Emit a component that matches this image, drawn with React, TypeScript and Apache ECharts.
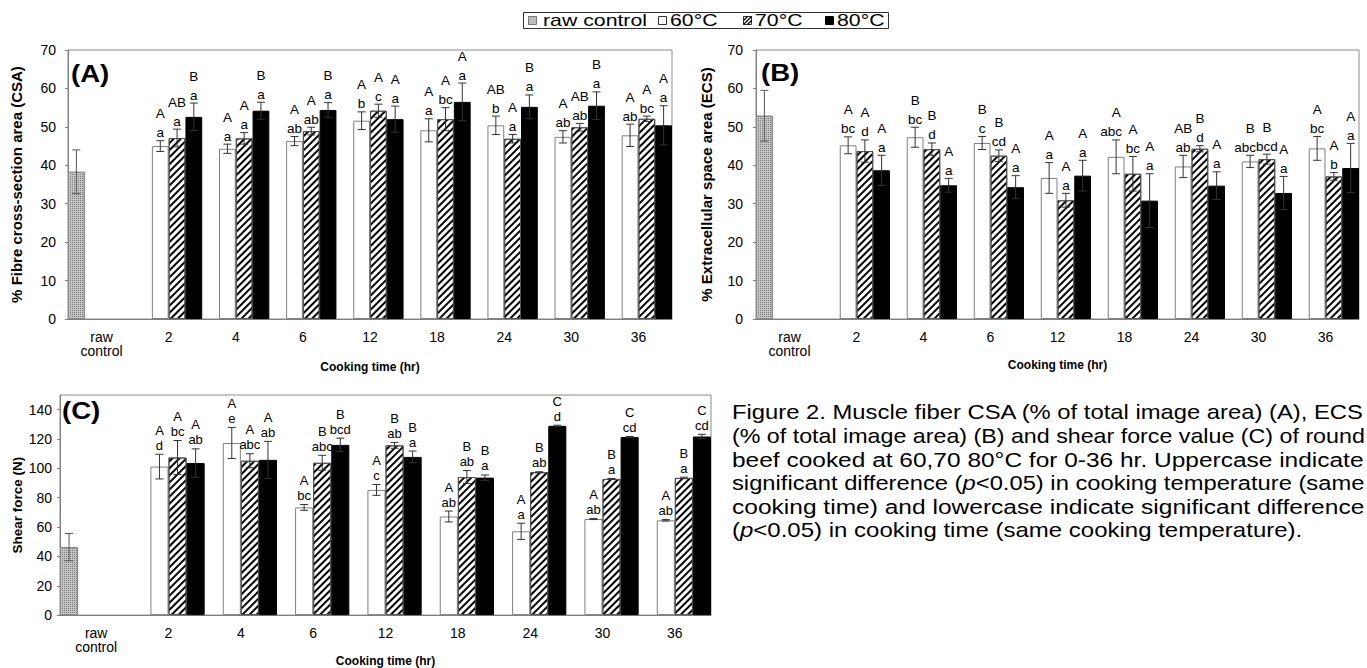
import React, { useEffect, useRef } from 'react';
import * as echarts from 'echarts';

const FONT = "'Liberation Sans', Arial, Helvetica, sans-serif";

// categories (cooking time)
const categories = ['raw\ncontrol', '2', '4', '6', '12', '18', '24', '30', '36'];

// (A) fibre cross-section area (%)
const csaRaw = 38.3;
const csaRawErr = 5.7;
const csa60 = [45.0, 44.3, 46.3, 51.6, 49.1, 50.4, 47.4, 47.8];
const csa60Err = [1.4, 1.2, 1.2, 2.3, 3.0, 2.4, 1.6, 2.9];
const csa70 = [47.1, 47.0, 48.9, 54.2, 52.0, 46.9, 49.9, 52.1];
const csa70Err = [2.3, 1.5, 1.0, 1.7, 3.0, 1.1, 1.0, 0.7];
const csa80 = [52.6, 54.2, 54.4, 52.0, 56.5, 55.2, 55.5, 50.4];
const csa80Err = [3.6, 2.2, 1.9, 3.4, 4.9, 3.1, 3.6, 5.1];
const csa60Sig = ['A a', 'A a', 'A ab', 'A b', 'A a', 'AB b', 'A ab', 'A ab'];
const csa70Sig = ['AB a', 'A a', 'A ab', 'A c', 'A bc', 'A a', 'AB ab', 'A bc'];
const csa80Sig = ['B a', 'B a', 'B a', 'A a', 'A a', 'B a', 'B a', 'A a'];

// (B) extracellular space area (%)
const ecsRaw = 52.9;
const ecsRawErr = 6.6;
const ecs60 = [45.2, 47.3, 45.8, 36.7, 42.2, 39.7, 41.0, 44.4];
const ecs60Err = [2.2, 2.6, 1.7, 4.0, 4.4, 2.9, 1.6, 3.1];
const ecs70 = [43.7, 44.2, 42.5, 30.9, 37.8, 44.3, 41.6, 37.1];
const ecs70Err = [2.9, 1.6, 1.5, 1.8, 4.5, 0.8, 1.3, 1.0];
const ecs80 = [38.7, 34.8, 34.3, 37.3, 30.8, 34.7, 32.8, 39.3];
const ecs80Err = [3.9, 1.8, 3.0, 4.0, 7.0, 3.6, 4.3, 6.4];
const ecs60Sig = ['A bc', 'B bc', 'B c', 'A a', 'A abc', 'AB ab', 'B abc', 'A bc'];
const ecs70Sig = ['A d', 'B d', 'B cd', 'A a', 'A bc', 'B d', 'B bcd', 'A b'];
const ecs80Sig = ['A a', 'A a', 'A a', 'A a', 'A a', 'A a', 'A a', 'A a'];

// (C) shear force (N)
const sfRaw = 46.3;
const sfRawErr = 9.3;
const sf60 = [101.2, 117.3, 73.4, 85.3, 67.2, 57.1, 65.5, 64.6];
const sf60Err = [8.4, 10.6, 2.0, 3.7, 3.7, 5.5, 0.4, 0.5];
const sf70 = [107.4, 105.2, 103.8, 115.7, 94.1, 97.4, 92.8, 93.5];
const sf70Err = [11.6, 4.8, 5.1, 2.0, 4.4, 0.3, 0.3, 0.5];
const sf80 = [103.6, 105.8, 116.0, 107.8, 93.7, 129.0, 121.3, 121.7];
const sf80Err = [9.7, 12.6, 4.6, 4.0, 1.8, 0.4, 0.4, 1.5];
const sf60Sig = ['A d', 'A e', 'A bc', 'A c', 'A ab', 'A a', 'A ab', 'A ab'];
const sf70Sig = ['A bc', 'A abc', 'B abc', 'B ab', 'B ab', 'B ab', 'B a', 'B a'];
const sf80Sig = ['A ab', 'A ab', 'B bcd', 'B a', 'B a', 'C d', 'C cd', 'C cd'];

const seriesNames = ['raw control', '60°C', '70°C', '80°C'];

const captionLines = [
  { text: 'Figure 2. Muscle fiber CSA (% of total image area) (A), ECS', sx: 1.134 },
  { text: '(% of total image area) (B) and shear force value (C) of round', sx: 1.107 },
  { text: 'beef cooked at 60,70 80°C for 0-36 hr. Uppercase indicate', sx: 1.166 },
  { text: 'significant difference ({i|p}<0.05) in cooking temperature (same', sx: 1.131 },
  { text: 'cooking time) and lowercase indicate significant difference', sx: 1.169 },
  { text: '({i|p}<0.05) in cooking time (same cooking temperature).', sx: 1.143 },
];

const hatchDecal = {
  symbol: 'rect',
  symbolSize: 1,
  color: '#000',
  backgroundColor: '#fff',
  dashArrayX: [1, 0],
  dashArrayY: [1.4, 2.6],
  rotation: -Math.PI / 4,
};
const stippleDecal = {
  symbol: 'rect',
  symbolSize: 1,
  color: '#7a7a7a',
  backgroundColor: '#dadada',
  dashArrayX: [1, 1],
  dashArrayY: [1, 1],
  rotation: 0,
};

type PanelCfg = {
  p: number;
  grid: { left: number; top: number; width: number; height: number };
  yMax: number;
  yInterval: number;
  hideMax: boolean;
  yName: string;
  yNameSize: number;
  yNameGap: number;
  yLabelMargin: number;
  xNameGap: number;
  raw: number;
  rawErr: number;
  v60: number[];
  e60: number[];
  v70: number[];
  e70: number[];
  v80: number[];
  e80: number[];
  s60: string[];
  s70: string[];
  s80: string[];
  lowOff: number;
  lineGap: number;
  sigSize: number;
};

function buildPanel(c: PanelCfg) {
  const p = c.p;
  const grid = {
    left: c.grid.left,
    top: c.grid.top,
    width: c.grid.width,
    height: c.grid.height,
    show: true,
    borderColor: '#8c8c8c',
    borderWidth: 1,
    backgroundColor: 'transparent',
  };
  const xAxis = {
    type: 'category',
    gridIndex: p,
    data: categories,
    axisLine: { lineStyle: { color: '#7f7f7f', width: 1 } },
    axisTick: { show: false },
    axisLabel: { color: '#000', fontSize: 14, fontFamily: FONT, margin: 11, lineHeight: 14, interval: 0 },
    name: 'Cooking time (hr)',
    nameLocation: 'middle',
    nameGap: c.xNameGap,
    nameTextStyle: { color: '#000', fontWeight: 'bold', fontSize: 12, fontFamily: FONT },
  };
  const yAxis = {
    type: 'value',
    gridIndex: p,
    min: 0,
    max: c.yMax,
    interval: c.yInterval,
    axisLine: { show: true, lineStyle: { color: '#7f7f7f', width: 1 } },
    axisTick: { show: true, length: 3, lineStyle: { color: '#7f7f7f' } },
    splitLine: { show: false },
    axisLabel: {
      color: '#000',
      fontSize: 14,
      fontFamily: FONT,
      margin: c.yLabelMargin,
      showMaxLabel: !c.hideMax,
    },
    name: c.yName,
    nameLocation: 'middle',
    nameGap: c.yNameGap,
    nameTextStyle: { color: '#000', fontWeight: 'bold', fontSize: c.yNameSize, fontFamily: FONT },
  };

  const nulls = (arr: number[]) => [null, ...arr];
  const rawData = [c.raw, null, null, null, null, null, null, null, null];
  const common = {
    type: 'bar',
    xAxisIndex: p,
    yAxisIndex: p,
    barGap: '0%',
    barCategoryGap: '0%',
    z: 2,
  };
  const bars = [
    {
      ...common,
      name: seriesNames[0],
      data: rawData,
      itemStyle: { color: '#c4c4c4', borderColor: '#8a8a8a', borderWidth: 1, decal: stippleDecal },
    },
    {
      ...common,
      name: seriesNames[1],
      data: nulls(c.v60),
      itemStyle: { color: '#fff', borderColor: '#808080', borderWidth: 1 },
    },
    {
      ...common,
      name: seriesNames[2],
      data: nulls(c.v70),
      itemStyle: { color: '#fff', borderColor: '#555', borderWidth: 1, decal: hatchDecal },
    },
    {
      ...common,
      name: seriesNames[3],
      data: nulls(c.v80),
      itemStyle: { color: '#000', borderColor: '#000', borderWidth: 1 },
    },
  ];

  // error bars + significance letters
  const items: number[][] = [];
  const sigs: string[] = [];
  items.push([0, c.raw, c.rawErr, 0]);
  sigs.push('');
  const groups: [number[], number[], string[]][] = [
    [c.v60, c.e60, c.s60],
    [c.v70, c.e70, c.s70],
    [c.v80, c.e80, c.s80],
  ];
  groups.forEach(([v, e, s], gi) => {
    v.forEach((val, i) => {
      items.push([i + 1, val, e[i], gi + 1]);
      sigs.push(s[i]);
    });
  });

  const errSeries = {
    type: 'custom',
    xAxisIndex: p,
    yAxisIndex: p,
    z: 5,
    silent: true,
    encode: { x: 0, y: 1 },
    data: items,
    renderItem: (params: any, api: any) => {
      const cat = api.value(0);
      const v = api.value(1);
      const e = api.value(2);
      const k = api.value(3);
      const band = api.size([1, 0])[0];
      const base = api.coord([cat, v]);
      const x = base[0] + (k - 1.5) * (band / 4);
      const yTop = api.coord([cat, v + e])[1];
      const yBot = api.coord([cat, v - e])[1];
      const cap = 4;
      const color = k === 0 ? '#555' : '#333';
      const ls = { stroke: color, lineWidth: 1 };
      const children: any[] = [
        { type: 'line', shape: { x1: x, y1: yTop, x2: x, y2: yBot }, style: ls },
        { type: 'line', shape: { x1: x - cap, y1: yTop, x2: x + cap, y2: yTop }, style: ls },
        { type: 'line', shape: { x1: x - cap, y1: yBot, x2: x + cap, y2: yBot }, style: ls },
      ];
      const sig = sigs[params.dataIndex];
      if (sig) {
        const [up, low] = sig.split(' ');
        const yLow = yTop - c.lowOff;
        // long lowercase groups of the 60 °C bar lean left, as in the source figure
        const lowX = k === 1 && low.length >= 3 ? x - 5 : x;
        children.push({
          type: 'text',
          x: lowX,
          y: yLow,
          style: { text: low, align: 'center', verticalAlign: 'middle', fontSize: c.sigSize, fontFamily: FONT, fill: '#000' },
        });
        children.push({
          type: 'text',
          x,
          y: yLow - c.lineGap,
          style: { text: up, align: 'center', verticalAlign: 'middle', fontSize: c.sigSize, fontFamily: FONT, fill: '#000' },
        });
      }
      return { type: 'group', children };
    },
  };

  return { grid, xAxis, yAxis, series: [...bars, errSeries] };
}

function buildOption() {
  const A = buildPanel({
    p: 0,
    grid: { left: 68, top: 50, width: 604, height: 269 },
    yMax: 70,
    yInterval: 10,
    hideMax: false,
    yName: '% Fibre cross-section area (CSA)',
    yNameSize: 15,
    yNameGap: 44,
    yLabelMargin: 12,
    xNameGap: 42,
    raw: csaRaw,
    rawErr: csaRawErr,
    v60: csa60,
    e60: csa60Err,
    v70: csa70,
    e70: csa70Err,
    v80: csa80,
    e80: csa80Err,
    s60: csa60Sig,
    s70: csa70Sig,
    s80: csa80Sig,
    lowOff: 8,
    lineGap: 19,
    sigSize: 13.5,
  });
  const B = buildPanel({
    p: 1,
    grid: { left: 756, top: 50, width: 603, height: 269 },
    yMax: 70,
    yInterval: 10,
    hideMax: false,
    yName: '% Extracellular space area (ECS)',
    yNameSize: 15,
    yNameGap: 42,
    yLabelMargin: 13,
    xNameGap: 36,
    raw: ecsRaw,
    rawErr: ecsRawErr,
    v60: ecs60,
    e60: ecs60Err,
    v70: ecs70,
    e70: ecs70Err,
    v80: ecs80,
    e80: ecs80Err,
    s60: ecs60Sig,
    s70: ecs70Sig,
    s80: ecs80Sig,
    lowOff: 8,
    lineGap: 19,
    sigSize: 13.5,
  });
  const C = buildPanel({
    p: 2,
    grid: { left: 60, top: 395, width: 651, height: 227 },
    yMax: 150,
    yInterval: 20,
    hideMax: true,
    yName: 'Shear force (N)',
    yNameSize: 13.5,
    yNameGap: 36,
    yLabelMargin: 8,
    xNameGap: 32,
    raw: sfRaw,
    rawErr: sfRawErr,
    v60: sf60,
    e60: sf60Err,
    v70: sf70,
    e70: sf70Err,
    v80: sf80,
    e80: sf80Err,
    s60: sf60Sig,
    s70: sf70Sig,
    s80: sf80Sig,
    lowOff: 9,
    lineGap: 15,
    sigSize: 13,
  });

  const legendText = (x: number, text: string) => ({
    type: 'text',
    x,
    y: 20.5,
    scaleX: 1.33,
    style: { text, x: 0, y: 0, align: 'left', verticalAlign: 'middle', fontSize: 16, fontFamily: FONT, fill: '#000' },
  });
  const ly = 16;
  const graphic: any[] = [
    // legend
    { type: 'rect', shape: { x: 523.5, y: 12.5, width: 365, height: 16 }, style: { fill: '#fff', stroke: '#333', lineWidth: 1 } },
    { type: 'rect', shape: { x: 528.5, y: ly + 0.5, width: 8, height: 8 }, style: { fill: '#bdbdbd', stroke: '#777', lineWidth: 1 } },
    { type: 'rect', shape: { x: 658.5, y: ly + 0.5, width: 8, height: 8 }, style: { fill: '#fff', stroke: '#333', lineWidth: 1 } },
    { type: 'rect', shape: { x: 743.5, y: ly + 0.5, width: 8, height: 8 }, style: { fill: '#fff', stroke: '#333', lineWidth: 1 } },
    { type: 'line', shape: { x1: 743.5, y1: ly + 8.5, x2: 751.5, y2: ly + 0.5 }, style: { stroke: '#000', lineWidth: 1.3 } },
    { type: 'line', shape: { x1: 743.5, y1: ly + 4.5, x2: 747.5, y2: ly + 0.5 }, style: { stroke: '#000', lineWidth: 1.3 } },
    { type: 'line', shape: { x1: 747.5, y1: ly + 8.5, x2: 751.5, y2: ly + 4.5 }, style: { stroke: '#000', lineWidth: 1.3 } },
    { type: 'rect', shape: { x: 825.5, y: ly + 0.5, width: 8, height: 8 }, style: { fill: '#000', stroke: '#000', lineWidth: 1 } },
    legendText(543, 'raw control'),
    legendText(670, '60°C'),
    legendText(755, '70°C'),
    legendText(837, '80°C'),
    // panel labels
    ...[
      ['(A)', 71, 74],
      ['(B)', 761, 73],
      ['(C)', 62, 411],
    ].map(([t, x, y]) => ({
      type: 'text',
      x,
      y,
      scaleX: 1.15,
      z: 10,
      style: { text: t, x: 0, y: 0, align: 'left', verticalAlign: 'middle', fontSize: 24, fontWeight: 'bold', fontFamily: FONT, fill: '#000' },
    })),
    // caption
    ...captionLines.map((l, i) => ({
      type: 'text',
      x: 732,
      y: 412 + i * 23.6,
      scaleX: l.sx,
      style: {
        text: l.text,
        x: 0,
        y: 0,
        align: 'left',
        verticalAlign: 'middle',
        fontSize: 21,
        fontFamily: FONT,
        fill: '#000',
        rich: { i: { fontStyle: 'italic', fontSize: 21, fontFamily: FONT, fill: '#000' } },
      },
    })),
  ];

  return {
    animation: false,
    backgroundColor: '#fff',
    grid: [A.grid, B.grid, C.grid],
    xAxis: [A.xAxis, B.xAxis, C.xAxis],
    yAxis: [A.yAxis, B.yAxis, C.yAxis],
    series: [...A.series, ...B.series, ...C.series],
    graphic,
  };
}

export default function App() {
  const ref = useRef<HTMLDivElement>(null);
  useEffect(() => {
    if (!ref.current) return;
    const chart = echarts.init(ref.current, null, { renderer: 'svg' });
    chart.setOption(buildOption() as any);
    return () => {
      chart.dispose();
    };
  }, []);
  return (
    <div
      ref={ref}
      style={{ position: 'fixed', left: 0, top: 0, width: 1367, height: 668, background: '#fff' }}
    />
  );
}
